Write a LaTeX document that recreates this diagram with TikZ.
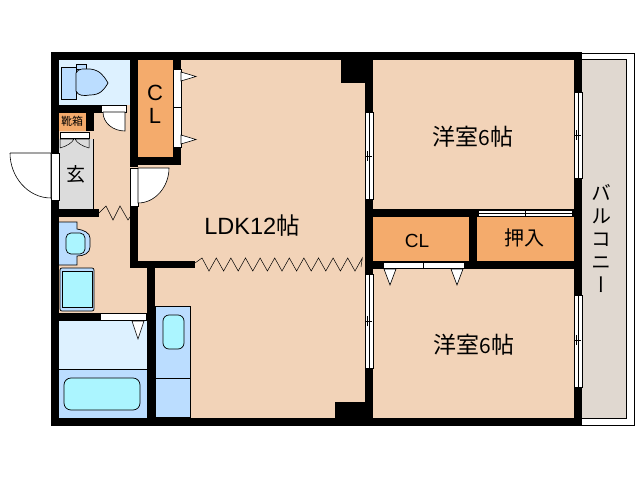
\documentclass[tikz,border=0pt]{standalone}
\usepackage{fontspec}
\setmainfont{Liberation Sans}
\newfontfamily\cjk{Noto Sans CJK JP}
\newfontfamily\cjkv[RawFeature=+vert]{Noto Sans CJK JP}
\definecolor{peach}{HTML}{F2D3B8}
\definecolor{orangeroom}{HTML}{F4AB6C}
\definecolor{bluefix}{HTML}{BBDDFF}
\definecolor{paleblue}{HTML}{DDF1FF}
\definecolor{cyanfix}{HTML}{ABF5FF}
\definecolor{entrygray}{HTML}{DCDCDC}
\definecolor{balconygray}{HTML}{E0D8D0}
\tikzset{
  wall/.style={fill=black,draw=none},
  sash/.style={fill=white,draw=black,line width=.6pt},
  swing/.style={fill=white,draw=black,line width=.6pt},
  fixture/.style={draw=black,line width=.7pt},
  label/.style={inner sep=0pt,text=black},
}
\begin{document}
\begin{tikzpicture}[x=1pt,y=-1pt]
    \useasboundingbox (0,0) rectangle (638,480);
    \fill[white] (0,0) rectangle (638,480);

    % balcony
    \draw[line width=.8pt] (582,53) -- (634,53) -- (634,425) -- (582,425);
    \draw[fill=balconygray,line width=.8pt] (582,59) -- (626,59) -- (626,418) -- (582,418);

    % floor
    \fill[peach] (51,52) rectangle (582,426);
    \fill[paleblue] (59,60) rectangle (130,105);
    \fill[orangeroom] (59,113) rectangle (86,131);
    \fill[orangeroom] (138,60) rectangle (173,157);
    \fill[entrygray] (59,139) rectangle (93,209);
    \draw[line width=.5pt] (93,139) -- (93,209);
    \fill[orangeroom] (373,217) rectangle (469,261);
    \fill[orangeroom] (477,217) rectangle (574,261);
    \fill[paleblue] (59,321) rectangle (147,369);
    \fill[bluefix] (59,369) rectangle (147,418);
    \draw[line width=.7pt] (59,369) -- (147,369);

    % outer walls
    \fill[wall] (51,52) rectangle (582,60);
    \fill[wall] (51,418) rectangle (582,426);
    \fill[wall] (51,52) rectangle (59,426);
    \fill[wall] (574,52) rectangle (582,426);

    % inner walls
    \fill[wall] (130,60) rectangle (138,167);
    \fill[wall] (130,157) rectangle (181,165);
    \fill[wall] (173,60) rectangle (181,165);
    \fill[wall] (59,105) rectangle (101,113);
    \fill[wall] (86,105) rectangle (94,131);
    \fill[wall] (59,209) rectangle (99,217);
    \fill[wall] (130,206) rectangle (138,268);
    \fill[wall] (130,261) rectangle (195,268);
    \fill[wall] (147,261) rectangle (155,426);
    \fill[wall] (59,313) rectangle (147,321);
    \fill[wall] (341,60) rectangle (373,83);
    \fill[wall] (335,402) rectangle (373,418);
    \fill[wall] (365,60) rectangle (373,418);
    \fill[wall] (373,209) rectangle (574,217);
    \fill[wall] (469,209) rectangle (477,269);
    \fill[wall] (373,261) rectangle (574,269);

    % windows
    \foreach \wx/\top/\bot/\mid in {365/112/199/156,365/274/368/321,574/92/178/135,574/295/387/340} {
        \draw[sash] (\wx,\top) rectangle ++(8,\bot-\top);
        \draw[line width=.5pt] (\wx+4,\top) -- (\wx+4,\bot);
        \draw[line width=.5pt] (\wx+1,\mid) -- (\wx+7,\mid);
        \draw[line width=.5pt] (\wx+2,\mid-5) -- (\wx+2,\mid+5);
    }

    % sliding and folding door strips
    \draw[sash] (173,69) rectangle (181,147);
    \draw[line width=.5pt] (173,107) -- (181,107);
    \draw[sash] (478,210) rectangle (572,216);
    \draw[line width=.5pt] (478,213) -- (572,213);
    \draw[line width=.5pt] (525,210) -- (525,216);
    \draw[sash] (383,262) rectangle (464,268);
    \draw[line width=.5pt] (423,262) -- (423,268);
    \draw[sash] (101,105) rectangle (126,112);
    \draw[sash] (60,132) rectangle (89,138);
    \draw[sash] (51,153) rectangle (59,200);
    \draw[sash] (130,168) rectangle (138,206);
    \fill[white] (101,313.5) rectangle (146,320);

    % door triangles
    \foreach \px/\py in {181/72,181/135} {
        \draw[swing] (\px,\py) -- (196,\py+4.5) -- (\px,\py+9) -- cycle;
    }
    \foreach \px in {384,451} {
        \draw[swing] (\px,269) -- (\px+6,285) -- (\px+12,269) -- cycle;
    }
    \draw[swing] (132,321) -- (138,339) -- (144,321) -- cycle;

    % swing doors
    \draw[swing] (10,153) -- (51,153) -- (51,198) .. controls (28,198) and (10,177) .. (10,153);
    \draw[swing] (138,168) -- (169,168) .. controls (169,187) and (155,203) .. (138,203) -- cycle;
    \draw[swing] (103,112) -- (125,112) -- (125,131) .. controls (113,131) and (103,123) .. (103,112);
    \draw[line width=.5pt] (60,148) -- (60,139) -- (74,139) .. controls (72,143) and (67,146) .. (60,148);
    \draw[line width=.5pt] (89,148) -- (89,139) -- (75,139) .. controls (77,143) and (82,146) .. (89,148);

    % zigzag partitions
    \draw[line width=.5pt] (99,213) -- (106,206) -- (113,220) -- (120,206) -- (128,220) -- (130,217);
    \draw[line width=.5pt] (195,263) -- (202,258)
        \foreach \k in {0,...,10} { -- ({209+14.6*\k},271) -- ({216.3+14.6*\k},258) } -- (361,267);

    % toilet
    \draw[fixture,fill=bluefix] (61,67) rectangle (76,99);
    \draw[fixture,fill=bluefix] (76,64) rectangle (86,69);
    \draw[fixture,fill=bluefix] (76,73) .. controls (78,68) and (84,69) .. (90,69)
        .. controls (100,70) and (104,76) .. (108,83)
        .. controls (104,90) and (100,95) .. (90,95)
        .. controls (84,96) and (78,96) .. (76,91) -- cycle;

    % washbasin
    \draw[fixture,fill=bluefix,draw=none] (59,222) -- (77,222) -- (77,229)
        .. controls (84,230) and (90,233) .. (90,238) -- (90,247)
        .. controls (90,253) and (84,256) .. (77,256) -- (77,265) -- (59,265) -- cycle;
    \draw[fixture] (59,222) -- (77,222) -- (77,229)
        .. controls (84,230) and (90,233) .. (90,238) -- (90,247)
        .. controls (90,253) and (84,256) .. (77,256) -- (77,265) -- (59,265);
    \draw[fixture,fill=cyanfix,rounded corners=5pt] (66,233) rectangle (85,254);

    % washing machine
    \draw[fixture,fill=bluefix,rounded corners=2pt] (60,268) rectangle (94,311);
    \draw[fixture,fill=cyanfix] (62.5,271) rectangle (92,307);

    % bath tub
    \draw[fixture,fill=cyanfix,rounded corners=7pt] (64,378) rectangle (140,410);

    % kitchen
    \draw[fixture,fill=bluefix] (155,306) rectangle (190,417);
    \draw[fixture] (155,378) -- (190,378);
    \draw[fixture,fill=cyanfix,rounded corners=6pt] (163,315) rectangle (184,349);

    % texts
    \node[label] (westernA) at (473,137) {\fontsize{23}{23}\selectfont\cjk 洋室{\fontsize{21}{21}\selectfont 6}帖};
    \node[label] (westernB) at (474,345) {\fontsize{23}{23}\selectfont\cjk 洋室{\fontsize{21}{21}\selectfont 6}帖};
    \node[label] (ldk) at (252,226) {\fontsize{23.5}{23.5}\selectfont LDK12{\cjk 帖}};
    \node[label] (clC) at (155,93) {\fontsize{22}{22}\selectfont C};
    \node[label] (clL) at (155,116) {\fontsize{22}{22}\selectfont L};
    \node[label] (entry) at (76,174) {\fontsize{19}{19}\selectfont\cjk 玄};
    \node[label] (shoes) at (72,121) {\fontsize{11}{11}\selectfont\cjk 靴箱};
    \node[label] (clB) at (417,241) {\fontsize{19}{19}\selectfont CL};
    \node[label] (closet) at (524,238) {\fontsize{20}{20}\selectfont\cjk 押入};
    \node[label,align=center,font={\fontsize{20}{23}\cjkv}] (balcony) at (601,238) {バ\\ル\\コ\\ニ\\ー};
\end{tikzpicture}
\end{document}
